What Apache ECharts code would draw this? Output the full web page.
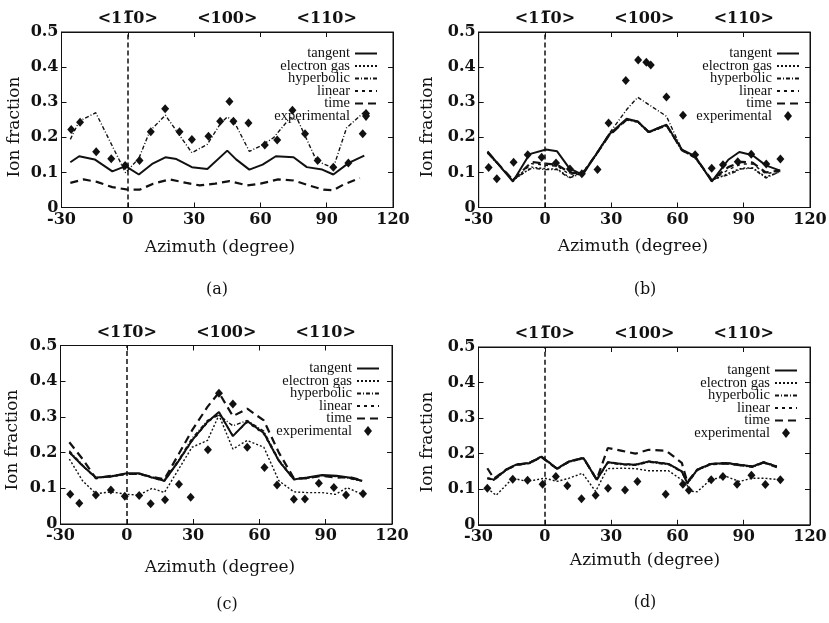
<!DOCTYPE html>
<html>
<head>
<meta charset="utf-8">
<script src="https://cdn.jsdelivr.net/npm/echarts@6/dist/echarts.min.js"></script>
<style>html,body{margin:0;padding:0;background:#fff}#c{width:829px;height:623px}</style>
</head>
<body>
<div id="c"></div>
<script>
// ---------- data ----------
const xTicks = [-30, 0, 30, 60, 90, 120];
const topLabelPositions = [0, 45, 90];
const topLabels = ['<11\u03050>', '<100>', '<110>'];
const seriesNames = ['tangent', 'electron gas', 'hyperbolic', 'linear', 'time', 'experimental'];
const panelCaptions = ['(a)', '(b)', '(c)', '(d)'];
const xAxisTitle = 'Azimuth (degree)';
const yAxisTitle = 'Ion fraction';

// panel (a)
const a_tangent = [[-26,0.129],[-22,0.146],[-15,0.137],[-7,0.103],[-1,0.118],[5,0.094],[11,0.124],[17,0.143],[22,0.138],[29,0.115],[36,0.11],[45,0.162],[49,0.137],[55,0.108],[61,0.122],[67,0.146],[75,0.143],[81,0.115],[88,0.108],[93,0.094],[100,0.127],[107,0.148]];
const a_electron = [];
const a_hyperbolic = [[-26,0.194],[-22,0.246],[-14.5,0.27],[-1,0.099],[5,0.14],[10,0.218],[17,0.263],[29,0.156],[36,0.18],[42,0.24],[45,0.258],[48,0.246],[55,0.16],[60,0.175],[66,0.199],[73.5,0.256],[77,0.248],[85.5,0.132],[93,0.113],[99,0.227],[107.5,0.275]];
const a_linear = [];
const a_time = [[-26,0.07],[-20,0.08],[-14,0.073],[-7,0.058],[0,0.051],[5.5,0.051],[11.5,0.068],[19,0.08],[26.5,0.07],[32.5,0.063],[39.5,0.068],[46,0.075],[54,0.063],[60,0.068],[68,0.08],[75,0.077],[82,0.063],[88.5,0.051],[93,0.049],[97.5,0.065],[105,0.084]];
const a_exp = [[-25.6,0.222],[-21.6,0.243],[-14.3,0.159],[-7.5,0.139],[-1.2,0.12],[5.3,0.134],[10.4,0.216],[16.9,0.281],[23.4,0.216],[29,0.194],[36.5,0.203],[41.8,0.246],[46,0.302],[47.8,0.246],[54.6,0.241],[62,0.178],[67.6,0.192],[74.5,0.277],[80.2,0.21],[85.9,0.134],[93,0.115],[99.8,0.127],[106.3,0.21],[107.8,0.268]];

// panel (b)
const b_tangent = [[-26,0.16],[-14.5,0.074],[-7,0.152],[0.5,0.165],[5.5,0.16],[11,0.112],[17,0.093],[23,0.15],[29,0.208],[37,0.253],[42,0.245],[47,0.215],[55,0.236],[62,0.165],[68,0.146],[75.5,0.074],[83,0.136],[88,0.158],[94,0.149],[100,0.12],[106.5,0.105]];
const b_electron = [[-26,0.155],[-14.5,0.077],[-6,0.115],[0.5,0.11],[5.5,0.11],[11,0.086],[17,0.1],[23,0.148],[29,0.205],[37,0.25],[42,0.243],[47,0.213],[55,0.233],[62,0.162],[68,0.142],[75.5,0.077],[83,0.097],[89,0.112],[94,0.113],[100,0.087],[106.5,0.102]];
const b_hyperbolic = [[-26,0.155],[-14.5,0.08],[-6,0.112],[0.5,0.108],[5.5,0.108],[11,0.084],[17,0.098],[23,0.15],[29,0.21],[37,0.279],[42,0.314],[55,0.26],[62,0.165],[68,0.14],[75.5,0.08],[83,0.093],[89,0.11],[94,0.112],[100,0.084],[106.5,0.103]];
const b_linear = [[-26,0.157],[-14.5,0.076],[-6,0.125],[0.5,0.12],[5.5,0.118],[11,0.095],[17,0.096],[23,0.149],[29,0.206],[37,0.251],[42,0.244],[47,0.214],[55,0.234],[62,0.163],[68,0.144],[75.5,0.076],[83,0.108],[89,0.124],[94,0.124],[100,0.096],[106.5,0.104]];
const b_time = [[-26,0.158],[-14.5,0.078],[-6,0.13],[0,0.125],[5.5,0.122],[11,0.1],[17,0.095],[23,0.15],[29,0.205],[37,0.25],[42,0.245],[47,0.215],[55,0.235],[62,0.163],[68,0.144],[75.5,0.078],[83,0.115],[89,0.13],[94,0.128],[100,0.1],[106.5,0.105]];
const b_exp = [[-25.5,0.114],[-21.8,0.082],[-14.2,0.129],[-7.8,0.15],[-1.5,0.143],[5,0.127],[11.3,0.11],[16.7,0.096],[23.8,0.108],[28.8,0.241],[36.6,0.362],[42.2,0.42],[45.9,0.414],[47.9,0.406],[55,0.315],[62.5,0.263],[68,0.15],[75.5,0.112],[80.6,0.122],[87.3,0.13],[93.4,0.152],[100.2,0.124],[106.6,0.138]];

// panel (c)
const c_tangent = [[-26,0.201],[-20,0.163],[-14,0.13],[-7,0.133],[0,0.142],[5.5,0.142],[11.5,0.13],[17,0.121],[23.5,0.177],[29.5,0.234],[36.5,0.286],[41.7,0.314],[48,0.246],[54.5,0.288],[62,0.255],[68.8,0.177],[75.6,0.125],[81.6,0.13],[88.4,0.137],[95,0.135],[100.5,0.13],[106.5,0.121]];
const c_electron = [[-26,0.182],[-20,0.121],[-14,0.085],[-7,0.09],[0,0.083],[5.5,0.081],[11.5,0.1],[17,0.088],[23.5,0.154],[29.5,0.215],[36.5,0.234],[41.7,0.305],[48,0.21],[54.5,0.234],[62,0.215],[68.8,0.121],[75.6,0.09],[81.6,0.088],[88.4,0.088],[94.4,0.083],[99.7,0.102],[106.5,0.083]];
const c_hyperbolic = [[-26,0.205],[-20,0.165],[-14,0.128],[-7,0.135],[0,0.14],[5.5,0.14],[11.5,0.132],[17,0.123],[23.5,0.18],[29.5,0.24],[36.5,0.29],[41.7,0.305],[48,0.275],[54.5,0.29],[62,0.26],[68.8,0.18],[75.6,0.127],[81.6,0.128],[88.4,0.135],[95,0.133],[100.5,0.128],[106.5,0.12]];
const c_linear = [[-26,0.2],[-20,0.162],[-14,0.129],[-7,0.132],[0,0.141],[5.5,0.141],[11.5,0.129],[17,0.12],[23.5,0.176],[29.5,0.232],[36.5,0.284],[41.7,0.31],[48,0.248],[54.5,0.285],[62,0.252],[68.8,0.176],[75.6,0.124],[81.6,0.129],[88.4,0.136],[95,0.134],[100.5,0.129],[106.5,0.12]];
const c_time = [[-26,0.229],[-20,0.182],[-14,0.128],[-7,0.135],[0,0.14],[5.5,0.14],[11.5,0.132],[17,0.125],[23.5,0.196],[29.5,0.262],[36.5,0.328],[41.7,0.368],[48,0.302],[54.5,0.323],[62,0.29],[68.8,0.2],[75.6,0.128],[81.6,0.128],[88.4,0.135],[95,0.13],[100.5,0.132],[106.5,0.122]];
const c_exp = [[-25.6,0.083],[-21.5,0.058],[-14,0.081],[-7.2,0.095],[-0.9,0.078],[5.6,0.08],[10.8,0.057],[17.3,0.068],[23.6,0.111],[28.9,0.075],[36.7,0.208],[41.7,0.366],[48,0.336],[54.5,0.215],[62.3,0.158],[68,0.109],[75.6,0.069],[80.6,0.07],[86.9,0.114],[93.7,0.102],[99.2,0.081],[106.9,0.085]];

// panel (d)
const d_tangent = [[-26,0.131],[-23,0.127],[-17.5,0.155],[-13,0.169],[-7,0.174],[-1.5,0.192],[5.5,0.158],[11,0.178],[17.5,0.188],[23.5,0.127],[28.5,0.176],[35,0.171],[41,0.169],[47,0.178],[56,0.171],[62,0.15],[64.5,0.117],[69,0.155],[75,0.171],[82,0.174],[88,0.169],[94,0.164],[99,0.176],[105,0.164]];
const d_electron = [[-26,0.103],[-22,0.083],[-14.5,0.131],[-8,0.122],[0,0.131],[5.5,0.122],[11,0.131],[17,0.145],[23,0.094],[28.3,0.158],[35,0.159],[41,0.158],[47,0.152],[56,0.152],[63,0.122],[66.5,0.094],[69,0.093],[75,0.127],[82,0.136],[88,0.122],[94,0.131],[99,0.131],[106,0.127]];
const d_hyperbolic = [[-26,0.13],[-23,0.125],[-17.5,0.153],[-13,0.167],[-7,0.172],[-1.5,0.19],[5.5,0.156],[11,0.176],[17.5,0.186],[23.5,0.125],[28.5,0.174],[35,0.169],[41,0.167],[47,0.176],[56,0.169],[62,0.148],[64.5,0.115],[69,0.153],[75,0.169],[82,0.172],[88,0.167],[94,0.162],[99,0.174],[105,0.163]];
const d_linear = [[-26,0.132],[-23,0.128],[-17.5,0.156],[-13,0.17],[-7,0.175],[-1.5,0.193],[5.5,0.159],[11,0.179],[17.5,0.189],[23.5,0.128],[28.5,0.177],[35,0.172],[41,0.17],[47,0.179],[56,0.172],[62,0.151],[64.5,0.118],[69,0.156],[75,0.172],[82,0.175],[88,0.17],[94,0.165],[99,0.177],[105,0.165]];
const d_time = [[-26,0.159],[-23,0.13],[-17.5,0.155],[-13,0.169],[-7,0.174],[-1.5,0.19],[5.5,0.158],[11,0.178],[17.5,0.188],[23.5,0.127],[28.5,0.216],[35,0.208],[41,0.2],[47,0.211],[55,0.208],[62,0.174],[64.5,0.12],[69,0.155],[75,0.171],[82,0.172],[88,0.168],[94,0.164],[99,0.175],[105,0.162]];
const d_exp = [[-26,0.103],[-14.5,0.128],[-7.8,0.125],[-1,0.114],[5,0.136],[10.2,0.11],[16.6,0.073],[23,0.083],[28.6,0.103],[36.3,0.098],[41.9,0.122],[54.7,0.086],[62.5,0.114],[65.2,0.097],[75.3,0.127],[80.6,0.136],[87,0.114],[93.5,0.139],[99.8,0.113],[106.6,0.127]];

const panelData = [
  [a_tangent, a_electron, a_hyperbolic, a_linear, a_time, a_exp],
  [b_tangent, b_electron, b_hyperbolic, b_linear, b_time, b_exp],
  [c_tangent, c_electron, c_hyperbolic, c_linear, c_time, c_exp],
  [d_tangent, d_electron, d_hyperbolic, d_linear, d_time, d_exp]
];

// ---------- layout & style ----------
const layout = [
  {left: 61.5, top: 32, width: 331.5, height: 175.5, legRight: 451, legTop: 46,
   xName: [220, 248], yName: [15, 127], cap: [217, 290]},
  {left: 478.7, top: 32, width: 331.3, height: 175.5, legRight: 29, legTop: 46,
   xName: [633, 247], yName: [428, 127], cap: [645, 290]},
  {left: 60.5, top: 345.5, width: 331.5, height: 178.5, legRight: 449, legTop: 361,
   xName: [220, 568], yName: [13, 440], cap: [227, 605]},
  {left: 478.5, top: 347, width: 331.5, height: 177.8, legRight: 31, legTop: 363,
   xName: [645, 561], yName: [428, 442], cap: [645, 603]}
];
const lineStyles = [
  {type: 'solid', width: 2},
  {type: [2, 2], width: 1.4},
  {type: [4, 2, 1, 2], width: 1.4},
  {type: [3, 4], width: 1.4},
  {type: [8, 5], width: 2.2}
];
const INK = '#111';
const NONE = 'rgba(0,0,0,0)';
const tickFont = {color: INK, fontFamily: 'DejaVu Serif', fontSize: 16, fontWeight: 'bold'};

const grid = [], xAxis = [], yAxis = [], series = [], legend = [], graphic = [];
layout.forEach((L, i) => {
  grid.push({left: L.left, top: L.top, width: L.width, height: L.height,
    show: true, borderColor: INK, borderWidth: 1, outerBoundsMode: 'none', containLabel: false});
  const lineAx = {show: true, onZero: false, lineStyle: {color: INK, width: 1}};
  xAxis.push({gridIndex: i, type: 'value', min: xTicks[0], max: xTicks[xTicks.length - 1], interval: 30,
    position: 'bottom', axisLine: lineAx, axisTick: {inside: true, length: 5, lineStyle: {color: INK}},
    axisLabel: Object.assign({margin: 4}, tickFont), splitLine: {show: false}});
  xAxis.push({gridIndex: i, type: 'value', min: xTicks[0], max: xTicks[xTicks.length - 1], interval: 30,
    position: 'top', axisLine: lineAx, axisTick: {inside: true, length: 5, lineStyle: {color: INK}},
    axisLabel: {show: false}, splitLine: {show: false}});
  xAxis.push({gridIndex: i, type: 'value', min: xTicks[0], max: xTicks[xTicks.length - 1], interval: 15,
    position: 'top', axisLine: {show: false}, axisTick: {show: false}, splitLine: {show: false},
    axisLabel: Object.assign({margin: 5, showMinLabel: true, showMaxLabel: true,
      formatter: v => { const k = topLabelPositions.indexOf(v); return k >= 0 ? topLabels[k] : ''; }}, tickFont)});
  yAxis.push({gridIndex: i, type: 'value', min: 0, max: 0.5, interval: 0.1, position: 'left',
    axisLine: lineAx, axisTick: {inside: true, length: 5, lineStyle: {color: INK}},
    axisLabel: Object.assign({margin: 3, formatter: v => v === 0 ? '0' : v.toFixed(1)}, tickFont),
    splitLine: {show: false}});
  yAxis.push({gridIndex: i, type: 'value', min: 0, max: 0.5, interval: 0.1, position: 'right',
    axisLine: lineAx, axisTick: {inside: true, length: 5, lineStyle: {color: INK}},
    axisLabel: {show: false}, splitLine: {show: false}});

  panelData[i].forEach((d, k) => {
    if (k < 5) {
      const s = {type: 'line', name: seriesNames[k], xAxisIndex: 3 * i, yAxisIndex: 2 * i,
        data: d, symbol: 'none', showSymbol: false, silent: true, animation: false,
        lineStyle: Object.assign({color: INK}, lineStyles[k]), itemStyle: {color: INK}, z: 3};
      if (k === 0) {
        s.markLine = {silent: true, symbol: 'none', label: {show: false},
          lineStyle: {color: INK, type: [5, 3], width: 1.5}, data: [{xAxis: 0}], animation: false};
      }
      series.push(s);
    } else {
      series.push({type: 'scatter', name: seriesNames[k], xAxisIndex: 3 * i, yAxisIndex: 2 * i,
        data: d, symbol: 'diamond', symbolSize: [8, 9], itemStyle: {color: INK, opacity: 1}, silent: true,
        animation: false, z: 4});
    }
  });

  legend.push({orient: 'vertical', right: L.legRight, top: L.legTop, align: 'right',
    itemWidth: 22, itemHeight: 10, itemGap: -2.5, padding: 0, selectedMode: false,
    symbolKeepAspect: true,
    itemStyle: {color: NONE, borderColor: NONE, borderWidth: 0},
    textStyle: {color: INK, fontFamily: 'Liberation Serif', fontSize: 14.5, padding: [0, 0, 0, 0]},
    data: seriesNames.map((n, k) => k === 5
      ? {name: n, icon: 'path://M0,-5L4,0L0,5L-4,0Z', itemStyle: {color: INK, borderColor: INK, opacity: 1}}
      : {name: n})});

  const fontName = '17px "DejaVu Serif"';
  graphic.push({type: 'text', x: L.xName[0], y: L.xName[1], silent: true,
    style: {text: xAxisTitle, font: fontName, fill: INK, align: 'center', verticalAlign: 'middle'}});
  graphic.push({type: 'text', x: L.yName[0], y: L.yName[1], rotation: Math.PI / 2, silent: true,
    style: {text: yAxisTitle, font: fontName, fill: INK, align: 'center', verticalAlign: 'middle'}});
  graphic.push({type: 'text', x: L.cap[0], y: L.cap[1], silent: true,
    style: {text: panelCaptions[i], font: '16px "DejaVu Serif"', fill: INK, align: 'center', verticalAlign: 'middle'}});
});

const chart = echarts.init(document.getElementById('c'), null, {renderer: 'canvas'});
chart.setOption({backgroundColor: '#fff', animation: false, grid, xAxis, yAxis, series, legend, graphic});
</script>
</body>
</html>
